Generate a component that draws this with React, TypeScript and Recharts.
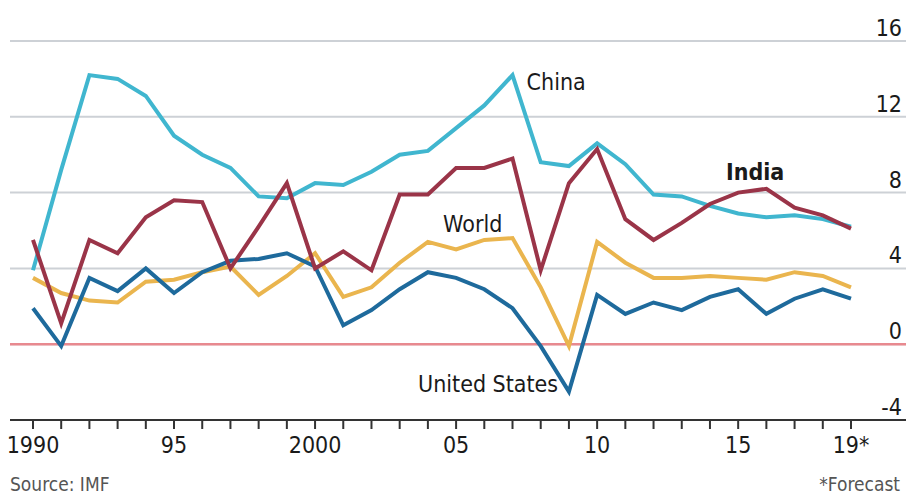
import {
  LineChart,
  Line,
  XAxis,
  YAxis,
  CartesianGrid,
  ReferenceLine,
  ReferenceDot,
} from "recharts";

const years = [
  1990, 1991, 1992, 1993, 1994, 1995, 1996, 1997, 1998, 1999, 2000, 2001, 2002,
  2003, 2004, 2005, 2006, 2007, 2008, 2009, 2010, 2011, 2012, 2013, 2014, 2015,
  2016, 2017, 2018, 2019,
];

const china = [
  3.9, 9.2, 14.2, 14.0, 13.1, 11.0, 10.0, 9.3, 7.8, 7.7, 8.5, 8.4, 9.1, 10.0,
  10.2, 11.4, 12.6, 14.2, 9.6, 9.4, 10.6, 9.5, 7.9, 7.8, 7.3, 6.9, 6.7, 6.8,
  6.6, 6.2,
];

const india = [
  5.5, 1.1, 5.5, 4.8, 6.7, 7.6, 7.5, 4.0, 6.2, 8.5, 4.0, 4.9, 3.9, 7.9, 7.9,
  9.3, 9.3, 9.8, 3.9, 8.5, 10.3, 6.6, 5.5, 6.4, 7.4, 8.0, 8.2, 7.2, 6.8, 6.1,
];

const world = [
  3.5, 2.7, 2.3, 2.2, 3.3, 3.4, 3.8, 4.1, 2.6, 3.6, 4.8, 2.5, 3.0, 4.3, 5.4,
  5.0, 5.5, 5.6, 3.0, -0.1, 5.4, 4.3, 3.5, 3.5, 3.6, 3.5, 3.4, 3.8, 3.6, 3.0,
];

const unitedStates = [
  1.9, -0.1, 3.5, 2.8, 4.0, 2.7, 3.8, 4.4, 4.5, 4.8, 4.1, 1.0, 1.8, 2.9, 3.8,
  3.5, 2.9, 1.9, -0.1, -2.5, 2.6, 1.6, 2.2, 1.8, 2.5, 2.9, 1.6, 2.4, 2.9, 2.4,
];

const yTicks = [-4, 0, 4, 8, 12, 16];

const xLabels: Record<number, string> = {
  1990: "1990",
  1995: "95",
  2000: "2000",
  2005: "05",
  2010: "10",
  2015: "15",
  2019: "19*",
};

const labels = [
  { text: "China", year: 2007.5, value: 13.4, bold: false },
  { text: "India", year: 2014.57, value: 8.68, bold: true },
  { text: "World", year: 2004.54, value: 5.93, bold: false },
  { text: "United States", year: 2003.65, value: -2.54, bold: false },
];

const data = years.map((year, i) => ({
  year,
  china: china[i],
  india: india[i],
  world: world[i],
  us: unitedStates[i],
}));

const FONT = "'DejaVu Sans Condensed', 'Liberation Sans Narrow', sans-serif";

function XTick({ x, y, payload }: any) {
  const label = xLabels[payload.value];
  if (!label) return null;
  return (
    <text x={x} y={y + 22} textAnchor="middle" fontSize={23} fill="#1a1a1a" fontFamily={FONT}>
      {label}
    </text>
  );
}

function YTick({ y, payload }: any) {
  return (
    <text x={902} y={y - 5} textAnchor="end" fontSize={23} fill="#1a1a1a" fontFamily={FONT}>
      {payload.value}
    </text>
  );
}

export default function App() {
  return (
    <div style={{ position: "absolute", left: 0, top: 0, width: 906, height: 496, background: "#fff" }}>
      <LineChart
        width={906}
        height={496}
        data={data}
        margin={{ top: 41, right: -1, left: 10, bottom: 0 }}
      >
        <CartesianGrid vertical={false} stroke="#cdd1d6" strokeWidth={2} />
        <XAxis
          dataKey="year"
          type="number"
          domain={[1989.185, 2020.95]}
          ticks={years}
          interval={0}
          tick={<XTick />}
          tickSize={9}
          tickLine={{ stroke: "#333", strokeWidth: 2 }}
          axisLine={{ stroke: "#333", strokeWidth: 2 }}
          height={76}
        />
        <YAxis
          orientation="right"
          domain={[-4, 16]}
          ticks={yTicks}
          width={1}
          axisLine={false}
          tickLine={false}
          tick={<YTick />}
        />
        <ReferenceLine y={0} stroke="#e8898f" strokeWidth={2.5} />
        <Line dataKey="world" stroke="#eab54e" strokeWidth={4} dot={false} isAnimationActive={false} />
        <Line dataKey="us" stroke="#1e6a9c" strokeWidth={4} dot={false} isAnimationActive={false} />
        <Line dataKey="china" stroke="#40b6cf" strokeWidth={4} dot={false} isAnimationActive={false} />
        <Line dataKey="india" stroke="#9a3448" strokeWidth={4} dot={false} isAnimationActive={false} />
        {labels.map((l) => (
          <ReferenceDot
            key={l.text}
            x={l.year}
            y={l.value}
            r={0}
            shape={(p: any) => (
              <text
                x={p.cx}
                y={p.cy}
                fontSize={23}
                fontWeight={l.bold ? "bold" : "normal"}
                fill="#1a1a1a"
                fontFamily={FONT}
              >
                {l.text}
              </text>
            )}
          />
        ))}
      </LineChart>
      <div
        style={{
          position: "absolute",
          left: 10,
          top: 473,
          fontSize: 19,
          lineHeight: "22px",
          color: "#555",
          fontFamily: FONT,
        }}
      >
        Source: IMF
      </div>
      <div
        style={{
          position: "absolute",
          right: 6,
          top: 473,
          fontSize: 19,
          lineHeight: "22px",
          color: "#555",
          fontFamily: FONT,
        }}
      >
        *Forecast
      </div>
    </div>
  );
}
